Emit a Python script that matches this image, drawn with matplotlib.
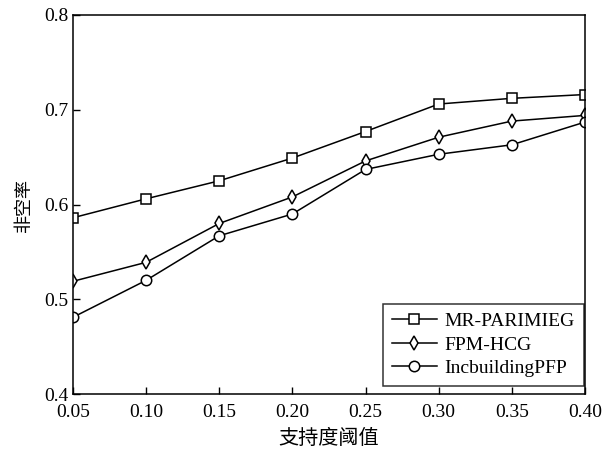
#!/usr/bin/env python3
"""Non-empty rate vs. support threshold for three frequent-pattern methods."""

import matplotlib

matplotlib.use("Agg")
import matplotlib.pyplot as plt

thresholds = [0.05, 0.10, 0.15, 0.20, 0.25, 0.30, 0.35, 0.40]
mr_parimieg = [0.586, 0.606, 0.625, 0.649, 0.677, 0.706, 0.712, 0.716]
fpm_hcg = [0.519, 0.539, 0.580, 0.608, 0.646, 0.671, 0.688, 0.694]
incbuilding_pfp = [0.481, 0.520, 0.567, 0.590, 0.637, 0.653, 0.663, 0.687]

x_ticks = [0.05, 0.10, 0.15, 0.20, 0.25, 0.30, 0.35, 0.40]
y_ticks = [0.4, 0.5, 0.6, 0.7, 0.8]

SERIF = ["Liberation Serif", "Noto Sans CJK SC"]
CJK = ["Noto Sans CJK SC", "Liberation Serif"]

plt.rcParams.update(
    {
        "font.family": SERIF,
        "axes.linewidth": 1.1,
        "xtick.direction": "in",
        "ytick.direction": "in",
        "xtick.major.size": 5,
        "ytick.major.size": 5,
        "xtick.major.width": 1.0,
        "ytick.major.width": 1.0,
    }
)

fig = plt.figure(figsize=(6.12, 4.51), dpi=100)
ax = fig.add_axes([0.119, 0.126, 0.837, 0.841])

style = dict(color="black", lw=1.1, markersize=7.5, markerfacecolor="white",
             markeredgewidth=1.1)
ax.plot(thresholds, mr_parimieg, marker="s", label="MR-PARIMIEG", **style)
ax.plot(thresholds, fpm_hcg, marker="d", label="FPM-HCG", **style)
ax.plot(thresholds, incbuilding_pfp, marker="o", label="IncbuildingPFP", **style)

ax.set_xlim(0.05, 0.40)
ax.set_ylim(0.4, 0.8)
ax.set_xticks(x_ticks)
ax.set_xticklabels([f"{t:.2f}" for t in x_ticks])
ax.set_yticks(y_ticks)
ax.set_yticklabels([f"{t:.1f}" for t in y_ticks])
ax.tick_params(labelsize=14)
ax.tick_params(axis="x", pad=7)
ax.tick_params(axis="y", pad=3)

ax.set_xlabel("支持度阈值", family=CJK, fontsize=14.5, labelpad=5)
ax.set_ylabel("非空率", family=CJK, fontsize=13, labelpad=8)

leg = ax.legend(loc="lower right", bbox_to_anchor=(0.997, 0.022),
                fontsize=14, frameon=True, fancybox=False,
                edgecolor="black", borderpad=0.45, handlelength=2.3,
                labelspacing=0.3, handletextpad=0.4, borderaxespad=0.0)
leg.get_frame().set_linewidth(1.1)

fig.savefig("out.png", dpi=100)
